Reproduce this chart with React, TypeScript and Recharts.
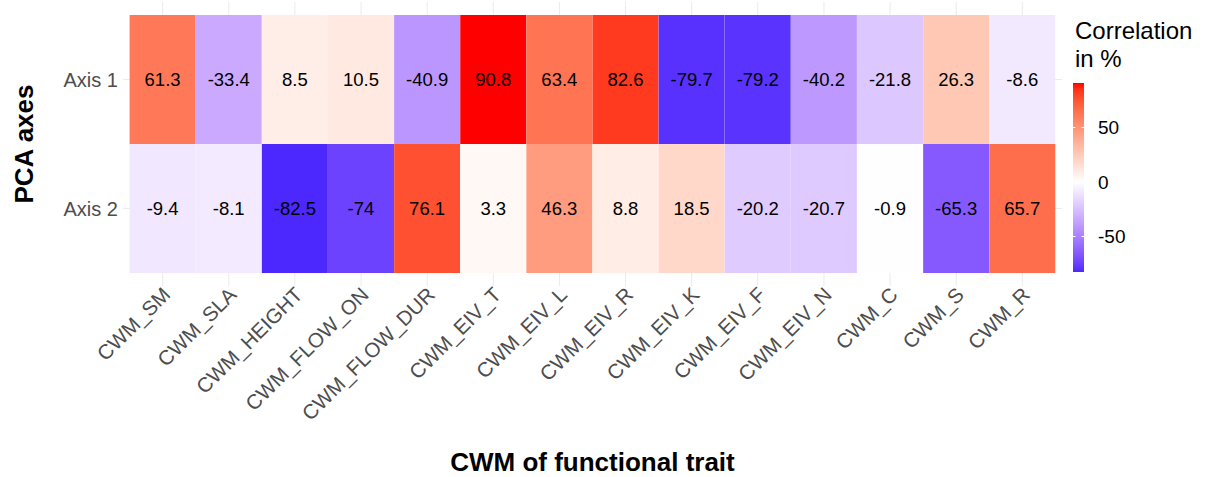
import { BarChart, Bar, XAxis, YAxis, CartesianGrid, Cell, LabelList } from 'recharts';

const traits = [
  'CWM_SM', 'CWM_SLA', 'CWM_HEIGHT', 'CWM_FLOW_ON', 'CWM_FLOW_DUR', 'CWM_EIV_T', 'CWM_EIV_L',
  'CWM_EIV_R', 'CWM_EIV_K', 'CWM_EIV_F', 'CWM_EIV_N', 'CWM_C', 'CWM_S', 'CWM_R',
];
const axis1 = [61.3, -33.4, 8.5, 10.5, -40.9, 90.8, 63.4, 82.6, -79.7, -79.2, -40.2, -21.8, 26.3, -8.6];
const axis2 = [-9.4, -8.1, -82.5, -74, 76.1, 3.3, 46.3, 8.8, 18.5, -20.2, -20.7, -0.9, -65.3, 65.7];
const rowLabels = ['Axis 2', 'Axis 1'];
const legendTicks = [50, 0, -50];

const data = traits.map((t, i) => ({ trait: t, a2: 1, a1: 1, v1: axis1[i], v2: axis2[i] }));

const allValues = [...axis1, ...axis2];
const vMin = Math.min(...allValues);
const vMax = Math.max(...allValues);

// colour ramp blue - white - red in CIELAB, like scale_fill_gradient2
const WX = 0.95047, WY = 1, WZ = 1.08883;
function toLab(hex: string) {
  const c = [1, 3, 5].map((k) => parseInt(hex.slice(k, k + 2), 16) / 255)
    .map((v) => (v <= 0.04045 ? v / 12.92 : ((v + 0.055) / 1.055) ** 2.4));
  const [r, g, b] = c;
  const X = (0.4124564 * r + 0.3575761 * g + 0.1804375 * b) / WX;
  const Y = (0.2126729 * r + 0.7151522 * g + 0.072175 * b) / WY;
  const Z = (0.0193339 * r + 0.119192 * g + 0.9503041 * b) / WZ;
  const f = (t: number) => (t > 0.008856 ? Math.cbrt(t) : 7.787 * t + 16 / 116);
  const fx = f(X), fy = f(Y), fz = f(Z);
  return [116 * fy - 16, 500 * (fx - fy), 200 * (fy - fz)];
}
function fromLab([L, a, bb]: number[]) {
  const fy = (L + 16) / 116, fx = fy + a / 500, fz = fy - bb / 200;
  const inv = (t: number) => (t ** 3 > 0.008856 ? t ** 3 : (t - 16 / 116) / 7.787);
  const X = WX * inv(fx), Y = WY * inv(fy), Z = WZ * inv(fz);
  const lin = [
    3.2404542 * X - 1.5371385 * Y - 0.4985314 * Z,
    -0.969266 * X + 1.8760108 * Y + 0.041556 * Z,
    0.0556434 * X - 0.2040259 * Y + 1.0572252 * Z,
  ];
  return '#' + lin.map((v) => {
    const s = v <= 0.0031308 ? 12.92 * v : 1.055 * v ** (1 / 2.4) - 0.055;
    return Math.round(Math.min(1, Math.max(0, s)) * 255).toString(16).padStart(2, '0');
  }).join('');
}
const LOW = toLab('#0000ff'), MID = toLab('#ffffff'), HIGH = toLab('#ff0000');
const maxAbs = Math.max(Math.abs(vMin), Math.abs(vMax));
function fillFor(v: number) {
  const t = v / maxAbs / 2 + 0.5;
  const [A, B, u] = t < 0.5 ? [LOW, MID, t / 0.5] : [MID, HIGH, (t - 0.5) / 0.5];
  return fromLab(A.map((x, k) => x + (B[k] - x) * u));
}

const FONT = '"Liberation Sans", Arial, sans-serif';

const XTick = (props: any) => {
  const { x, y, payload } = props;
  const ax = x + 9;
  const ay = y + 10;
  return (
    <text x={ax} y={ay} transform={`rotate(-45, ${ax}, ${ay})`} textAnchor="end" fill="#4D4D4D" fontSize={20.5} fontFamily={FONT}>
      {payload.value}
    </text>
  );
};

const CellLabel = (props: any) => {
  const { x, y, width, height, value } = props;
  return (
    <text x={x + width / 2} y={y + height / 2} dy={6.5} textAnchor="middle" fill="#000" fontSize={18.5} fontFamily={FONT}>
      {value}
    </text>
  );
};

// colour bar geometry
const barX = 1073, barW = 11, barTop = 83, barBottom = 272;
const barY = (v: number) => barTop + ((vMax - v) / (vMax - vMin)) * (barBottom - barTop);
const stops = Array.from({ length: 41 }, (_, i) => {
  const v = vMax - ((vMax - vMin) * i) / 40;
  return { off: i / 40, col: fillFor(v) };
});

export default function App() {
  return (
    <div style={{ position: 'absolute', left: 0, top: 0, width: 1212, height: 477, background: '#fff', fontFamily: FONT }}>
      <BarChart
        width={1212}
        height={477}
        data={data}
        margin={{ top: 2, right: 150, bottom: 0, left: 0 }}
        barCategoryGap={0}
        barGap={0}
      >
        <CartesianGrid stroke="#EBEBEB" strokeWidth={1} syncWithTicks />
        <XAxis
          dataKey="trait"
          type="category"
          height={191}
          padding={{ left: 6.6, right: 6.6 }}
          tickLine={false}
          axisLine={false}
          tickSize={0}
          tickMargin={0}
          interval={0}
          tick={<XTick />}
          label={({ viewBox }: any) => (
            <text x={viewBox.x + viewBox.width / 2} y={471} textAnchor="middle" fontSize={26} fontWeight="bold" fill="#000" fontFamily={FONT}>
              CWM of functional trait
            </text>
          )}
        />
        <YAxis
          type="number"
          domain={[-0.1, 2.1]}
          ticks={[0.5, 1.5]}
          width={123}
          tickLine={false}
          axisLine={false}
          tickSize={0}
          tickMargin={5}
          tickFormatter={(v: number) => rowLabels[Math.floor(v)]}
          tick={{ fill: '#4D4D4D', fontSize: 20, fontFamily: FONT }}
          label={({ viewBox }: any) => {
            const cy = viewBox.y + viewBox.height / 2;
            return (
              <text x={33} y={cy} transform={`rotate(-90, 33, ${cy})`} textAnchor="middle" fontSize={26} fontWeight="bold" fill="#000" fontFamily={FONT}>
                PCA axes
              </text>
            );
          }}
        />
        <Bar dataKey="a2" stackId="s" isAnimationActive={false}>
          {data.map((d) => <Cell key={d.trait} fill={fillFor(d.v2)} />)}
          <LabelList dataKey="v2" content={<CellLabel />} />
        </Bar>
        <Bar dataKey="a1" stackId="s" isAnimationActive={false}>
          {data.map((d) => <Cell key={d.trait} fill={fillFor(d.v1)} />)}
          <LabelList dataKey="v1" content={<CellLabel />} />
        </Bar>
      </BarChart>
      <svg width={1212} height={477} style={{ position: 'absolute', left: 0, top: 0, pointerEvents: 'none' }}>
        <defs>
          <linearGradient id="cbar" x1="0" y1="0" x2="0" y2="1">
            {stops.map((s, i) => <stop key={i} offset={s.off} stopColor={s.col} />)}
          </linearGradient>
        </defs>
        <text x={1075} y={39} fontSize={24} fill="#000" fontFamily={FONT}>Correlation</text>
        <text x={1075} y={67} fontSize={24} fill="#000" fontFamily={FONT}>in %</text>
        <rect x={barX} y={barTop} width={barW} height={barBottom - barTop} fill="url(#cbar)" />
        {legendTicks.map((v) => (
          <g key={v}>
            <line x1={barX} x2={barX + 2.5} y1={barY(v)} y2={barY(v)} stroke="#fff" strokeWidth={1} />
            <line x1={barX + barW - 2.5} x2={barX + barW} y1={barY(v)} y2={barY(v)} stroke="#fff" strokeWidth={1} />
            <text x={1098} y={barY(v)} dy={6.5} fontSize={19} fill="#000" fontFamily={FONT}>{v}</text>
          </g>
        ))}
      </svg>
    </div>
  );
}
